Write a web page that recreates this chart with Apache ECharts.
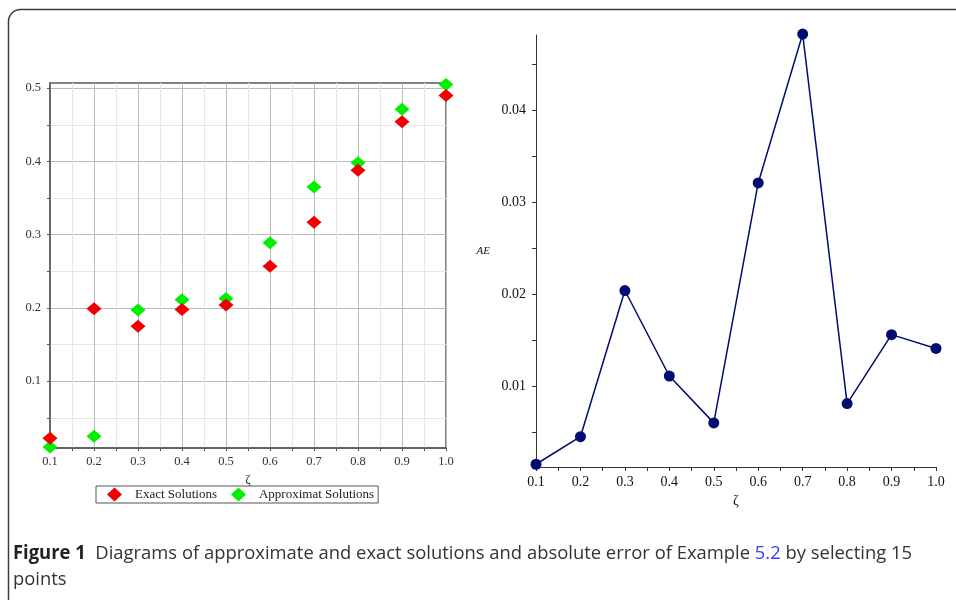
<!DOCTYPE html>
<html>
<head>
<meta charset="utf-8">
<script src="https://cdn.jsdelivr.net/npm/echarts@6/dist/echarts.min.js"></script>
<style>html,body{margin:0;padding:0;background:#fff;}#c{width:956px;height:600px;}</style>
</head>
<body>
<div id="c"></div>
<script>
// ---- data ----
const zeta = [0.1, 0.2, 0.3, 0.4, 0.5, 0.6, 0.7, 0.8, 0.9, 1.0];
const exactSolutions = [0.022, 0.199, 0.175, 0.198, 0.204, 0.257, 0.317, 0.388, 0.454, 0.490];
const approxSolutions = [0.010, 0.025, 0.197, 0.211, 0.213, 0.289, 0.365, 0.398, 0.471, 0.505];
const absError = [0.0015, 0.0045, 0.0204, 0.0111, 0.0060, 0.0321, 0.0483, 0.0081, 0.0156, 0.0141];

const xTickValues = [0.1, 0.15, 0.2, 0.25, 0.3, 0.35, 0.4, 0.45, 0.5, 0.55, 0.6, 0.65, 0.7, 0.75, 0.8, 0.85, 0.9, 0.95, 1.0];
const xLabelValues = [0.1, 0.2, 0.3, 0.4, 0.5, 0.6, 0.7, 0.8, 0.9, 1.0];
const solTickValues = [0.05, 0.1, 0.15, 0.2, 0.25, 0.3, 0.35, 0.4, 0.45, 0.5];
const solLabelValues = [0.1, 0.2, 0.3, 0.4, 0.5];
const aeTickValues = [0.005, 0.01, 0.015, 0.02, 0.025, 0.03, 0.035, 0.04, 0.045];
const aeLabelValues = [0.01, 0.02, 0.03, 0.04];

const legendNames = ['Exact Solutions', 'Approximat Solutions'];
const captionBold = 'Figure 1';
const captionMain = 'Diagrams of approximate and exact solutions and absolute error of Example ';
const captionLink = '5.2';
const captionTail = ' by selecting 15';
const captionLine2 = 'points';

// ---- chart ----
const serif = 'Liberation Serif';
const chart = echarts.init(document.getElementById('c'), null, {renderer: 'canvas'});

function pairs(xs, ys) { return xs.map((x, i) => [x, ys[i]]); }

// caption width fit
const capSize = 19;
const cv = document.createElement('canvas').getContext('2d');
cv.font = 'bold ' + capSize + 'px "Open Sans"';
let w = cv.measureText(captionBold + '  ').width;
cv.font = capSize + 'px "Open Sans"';
w += cv.measureText(captionMain + captionLink + captionTail).width;
const capScale = 899 / w;

const option = {
  animation: false,
  backgroundColor: '#fff',
  grid: [
    {left: 50, right: 510, top: 83, bottom: 152, show: true, borderColor: '#5a5a5a', borderWidth: 1.5, containLabel: false},
    {left: 536, right: 20, top: 35, bottom: 133, show: false}
  ],
  legend: {
    data: legendNames,
    left: 96, top: 486,
    orient: 'horizontal',
    icon: 'diamond',
    itemWidth: 15, itemHeight: 14,
    itemGap: 14,
    padding: [1.5, 4, 1.5, 11],
    borderColor: '#555', borderWidth: 1,
    textStyle: {fontFamily: serif, fontSize: 13, color: '#222', padding: [0, 0, 0, 8]}
  },
  xAxis: [
    {
      gridIndex: 0, type: 'value', min: 0.1, max: 1.0,
      name: 'ζ', nameLocation: 'middle', nameGap: 22,
      nameTextStyle: {fontFamily: serif, fontSize: 13, color: '#333'},
      axisLine: {show: true, onZero: false, lineStyle: {color: '#5a5a5a', width: 1.5}},
      axisTick: {show: true, inside: false, length: 3, customValues: xTickValues, lineStyle: {color: '#555'}},
      axisLabel: {customValues: xLabelValues, margin: 7, fontFamily: serif, fontSize: 12.5, color: '#333',
                  formatter: v => v.toFixed(1)},
      splitLine: {show: true, lineStyle: {color: ['#bababa', '#e6e6e6'], width: 1}}
    },
    {
      gridIndex: 1, type: 'value', min: 0.1, max: 1.0,
      name: 'ζ', nameLocation: 'middle', nameGap: 25,
      nameTextStyle: {fontFamily: serif, fontSize: 14, color: '#111'},
      axisLine: {show: true, onZero: false, lineStyle: {color: '#333', width: 1}},
      axisTick: {show: true, inside: false, length: 4, customValues: xTickValues, lineStyle: {color: '#333'}},
      axisLabel: {customValues: xLabelValues, margin: 8, fontFamily: serif, fontSize: 14, color: '#111',
                  formatter: v => v.toFixed(1)},
      splitLine: {show: false}
    }
  ],
  yAxis: [
    {
      gridIndex: 0, type: 'value', min: 0.0088, max: 0.507,
      axisLine: {show: true, onZero: false, lineStyle: {color: '#5a5a5a', width: 1.5}},
      axisTick: {show: true, inside: false, length: 3, customValues: solTickValues, lineStyle: {color: '#555'}},
      axisLabel: {customValues: solLabelValues, margin: 9, fontFamily: serif, fontSize: 12.5, color: '#333',
                  formatter: v => v.toFixed(1)},
      splitLine: {show: true, lineStyle: {color: ['#e6e6e6', '#bababa'], width: 1}}
    },
    {
      gridIndex: 1, type: 'value', min: 0.0012, max: 0.0482,
      name: 'AE', nameLocation: 'middle', nameGap: 46, nameRotate: 0,
      nameTextStyle: {fontFamily: serif, fontSize: 11, fontStyle: 'italic', color: '#111'},
      axisLine: {show: true, onZero: false, lineStyle: {color: '#333', width: 1}},
      axisTick: {show: true, inside: false, length: 4, customValues: aeTickValues, lineStyle: {color: '#333'}},
      axisLabel: {customValues: aeLabelValues, margin: 10, fontFamily: serif, fontSize: 14, color: '#111',
                  formatter: v => v.toFixed(2)},
      splitLine: {show: false}
    }
  ],
  series: [
    {
      name: legendNames[1], type: 'scatter', xAxisIndex: 0, yAxisIndex: 0, clip: false,
      symbol: 'diamond', symbolSize: [15, 13],
      itemStyle: {color: '#00f000', opacity: 1},
      data: pairs(zeta, approxSolutions), z: 3
    },
    {
      name: legendNames[0], type: 'scatter', xAxisIndex: 0, yAxisIndex: 0, clip: false,
      symbol: 'diamond', symbolSize: [15, 13],
      itemStyle: {color: '#f00000', opacity: 1},
      data: pairs(zeta, exactSolutions), z: 4
    },
    {
      name: 'AE', type: 'line', xAxisIndex: 1, yAxisIndex: 1, clip: false,
      symbol: 'circle', symbolSize: 11, showSymbol: true,
      lineStyle: {color: '#000c72', width: 1.5},
      itemStyle: {color: '#000c72'},
      data: pairs(zeta, absError)
    }
  ],
  graphic: [
    {
      type: 'rect', silent: true, z: -1,
      shape: {x: 8.5, y: 9.5, width: 1200, height: 900, r: 12},
      style: {fill: 'none', stroke: '#3c3c3c', lineWidth: 1.5}
    },
    {
      type: 'text', x: 13, y: 541, scaleX: capScale, originX: 0, originY: 0,
      style: {
        text: '{b|' + captionBold + '}  ' + captionMain + '{l|' + captionLink + '}' + captionTail + '\n' + captionLine2,
        fontFamily: 'Open Sans', fontSize: capSize, fill: '#333', lineHeight: 26,
        verticalAlign: 'top', align: 'left',
        rich: {
          b: {fontFamily: 'Open Sans', fontSize: capSize, fontWeight: 'bold', fill: '#222', lineHeight: 26},
          l: {fontFamily: 'Open Sans', fontSize: capSize, fill: '#3a3aff', lineHeight: 26}
        }
      }
    }
  ]
};
chart.setOption(option);
</script>
</body>
</html>
